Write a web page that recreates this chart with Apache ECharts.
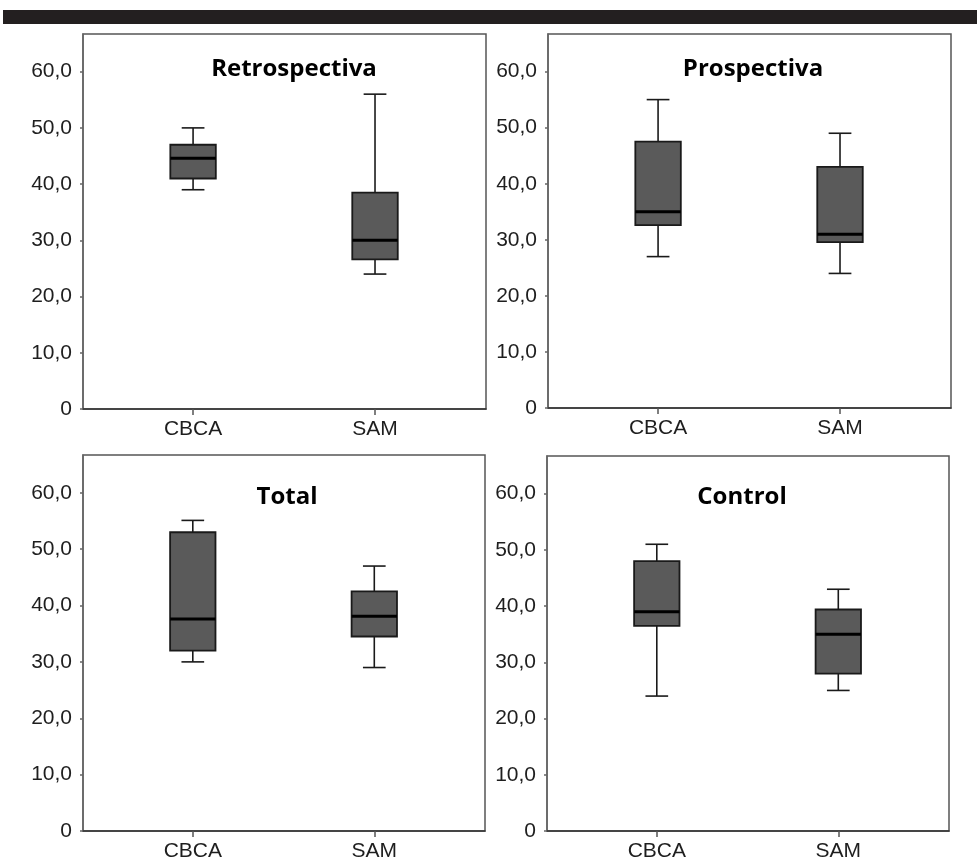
<!DOCTYPE html>
<html>
<head>
<meta charset="utf-8">
<script src="https://cdn.jsdelivr.net/npm/echarts@6/dist/echarts.min.js"></script>
<style>
html,body{margin:0;padding:0;background:#fff;}
#chart{width:977px;height:864px;}
</style>
</head>
<body>
<div id="chart"></div>
<script>
// ---- data ----
const categories = ['CBCA', 'SAM'];
const panelTitles = ['Retrospectiva', 'Prospectiva', 'Total', 'Control'];
// [min, Q1, median, Q3, max]
const retroCBCA = [39, 41, 44.6, 47, 50];
const retroSAM = [24, 26.6, 30, 38.5, 56];
const prospCBCA = [27, 32.6, 35, 47.5, 55];
const prospSAM = [24, 29.6, 31, 43, 49];
const totalCBCA = [30, 32, 37.6, 53, 55.1];
const totalSAM = [29, 34.5, 38.1, 42.5, 47];
const controlCBCA = [24, 36.5, 39, 48, 51];
const controlSAM = [25, 28, 35, 39.4, 43];
const yTicks = [0, 10, 20, 30, 40, 50, 60];
const yTickLabels = ['0', '10,0', '20,0', '30,0', '40,0', '50,0', '60,0'];

const panelData = [
  [retroCBCA, retroSAM],
  [prospCBCA, prospSAM],
  [totalCBCA, totalSAM],
  [controlCBCA, controlSAM]
];

// ---- layout ----
const grids = [
  {left: 83, top: 34, width: 403, height: 375},
  {left: 548, top: 34, width: 403, height: 374},
  {left: 83, top: 455, width: 402, height: 376},
  {left: 547, top: 456, width: 402, height: 375}
];
const titlePos = [[294, 69], [753, 69.5], [287, 497], [742, 497.5]];

const chart = echarts.init(document.getElementById('chart'), null, {renderer: 'canvas'});

const labelFont = {fontFamily: 'Liberation Sans', fontSize: 21, color: '#1e1e1e'};

const option = {
  backgroundColor: '#fff',
  animation: false,
  grid: grids.map(g => Object.assign({show: true, borderColor: '#555', borderWidth: 1.5, backgroundColor: 'transparent'}, g)),
  xAxis: grids.map((g, i) => ({
    gridIndex: i,
    type: 'value',
    min: -0.605,
    max: 1.61,
    splitLine: {show: false},
    axisLine: {show: true, onZero: false, lineStyle: {color: '#333', width: 1.5}},
    axisTick: {show: true, length: 6, lineStyle: {color: '#555', width: 1.5}, customValues: [0, 1]},
    axisLabel: Object.assign({margin: 10, customValues: [0, 1], formatter: v => categories[Math.round(v)]}, labelFont)
  })),
  yAxis: grids.map((g, i) => ({
    gridIndex: i,
    type: 'value',
    min: 0,
    max: 66.7,
    splitLine: {show: false},
    axisLine: {show: true, onZero: false, lineStyle: {color: '#666', width: 1.5}},
    axisTick: {show: true, length: 3, lineStyle: {color: '#666', width: 1.5}, customValues: yTicks},
    axisLabel: Object.assign({margin: 11, customValues: yTicks, formatter: v => yTickLabels[yTicks.indexOf(Math.round(v))]}, labelFont)
  })),
  series: panelData.map((pd, i) => ({
    type: 'custom',
    xAxisIndex: i,
    yAxisIndex: i,
    encode: {x: 0, y: [1, 2, 3, 4, 5]},
    data: pd.map((d, k) => [k].concat(d)),
    renderItem: function (params, api) {
      const x = api.value(0);
      const unit = api.size([1, 0])[0];
      const bw = unit * 0.25;
      const cw = unit * 0.125;
      const pMin = api.coord([x, api.value(1)]);
      const pQ1 = api.coord([x, api.value(2)]);
      const pMed = api.coord([x, api.value(3)]);
      const pQ3 = api.coord([x, api.value(4)]);
      const pMax = api.coord([x, api.value(5)]);
      const cx = pMin[0];
      const lineStyle = {stroke: '#1a1a1a', lineWidth: 1.6};
      return {
        type: 'group',
        children: [
          {type: 'line', shape: {x1: cx, y1: pMax[1], x2: cx, y2: pQ3[1]}, style: lineStyle},
          {type: 'line', shape: {x1: cx, y1: pQ1[1], x2: cx, y2: pMin[1]}, style: lineStyle},
          {type: 'line', shape: {x1: cx - cw / 2, y1: pMax[1], x2: cx + cw / 2, y2: pMax[1]}, style: lineStyle},
          {type: 'line', shape: {x1: cx - cw / 2, y1: pMin[1], x2: cx + cw / 2, y2: pMin[1]}, style: lineStyle},
          {type: 'rect', shape: {x: cx - bw / 2, y: pQ3[1], width: bw, height: pQ1[1] - pQ3[1]},
            style: {fill: '#5a5a5a', stroke: '#1a1a1a', lineWidth: 1.8}},
          {type: 'line', shape: {x1: cx - bw / 2, y1: pMed[1], x2: cx + bw / 2, y2: pMed[1]},
            style: {stroke: '#000', lineWidth: 3}}
        ]
      };
    }
  })),
  graphic: [
    {type: 'rect', shape: {x: 3, y: 10, width: 974, height: 14}, style: {fill: '#231f20'}, z: 10}
  ].concat(panelTitles.map((t, i) => ({
    type: 'text',
    x: titlePos[i][0],
    y: titlePos[i][1],
    style: {text: t, fontFamily: 'Open Sans', fontWeight: 'bold', fontSize: 24, fill: '#000', align: 'center', verticalAlign: 'middle'},
    z: 10
  })))
};

chart.setOption(option);
</script>
</body>
</html>
